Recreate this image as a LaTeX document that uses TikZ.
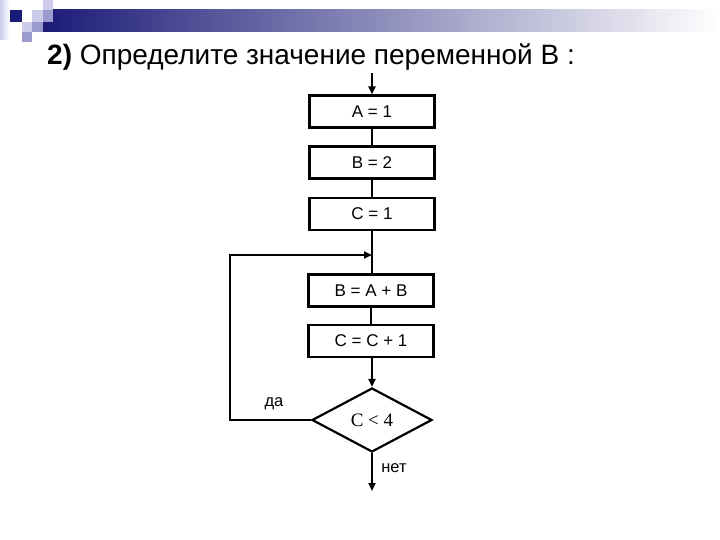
\documentclass[tikz,border=0pt]{standalone}
\usepackage{fontspec}
\setmainfont{Liberation Sans}
\newfontfamily\serifont{Liberation Serif}
\usetikzlibrary{shapes.geometric,arrows.meta}
\definecolor{navy}{RGB}{28,28,120}
\definecolor{lav}{RGB}{204,204,234}
\definecolor{midlav}{RGB}{154,154,204}
\definecolor{barmid}{RGB}{160,160,185}
\begin{document}
\begin{tikzpicture}[x=1pt,y=-1pt,
  box/.style={draw, line width=2.2pt, minimum width=125pt, minimum height=32pt, inner sep=0pt, font=\fontsize{17}{19}\selectfont},
  dec/.style={draw, diamond, line width=2.2pt, minimum width=120pt, minimum height=64pt, inner sep=0pt, font=\serifont\fontsize{19}{21}\selectfont},
  flow/.style={line width=2.2pt},
  arr/.style={flow, -{Triangle[length=8pt,width=7pt]}},
  lbl/.style={font=\fontsize{16.5}{18}\selectfont, inner sep=0pt}]
\useasboundingbox (0,0) rectangle (720,540);
% decoration
\shade[left color=lav, right color=white] (0,0) rectangle (10,40);
\shade[left color=navy, middle color=barmid, right color=white] (43,10) rectangle (720,32);
\fill[navy] (10,10) rectangle (22,22);
\fill[lav] (32,10) rectangle (43,22);
\fill[lav] (43,0) rectangle (53,10);
\fill[midlav] (43,10) rectangle (53,22);
\fill[lav] (22,22) rectangle (32,32);
\fill[midlav] (32,22) rectangle (43,32);
\fill[midlav] (22,32) rectangle (32,42);
% title
\node[anchor=base west, inner sep=0pt, font=\fontsize{28}{32}\selectfont] (title) at (47,65) {\textbf{2)} Определите значение переменной В :};
% flowchart
\node[box] (A) at (372,111.5) {A = 1};
\node[box] (B) at (372,162.5) {B = 2};
\node[box] (C) at (372,214) {C = 1};
\node[box] (BAB) at (371,290.5) {B = A + B};
\node[box] (CC) at (371,341) {C = C + 1};
\node[dec] (D) at (372,420) {C < 4};
\coordinate (start) at (372,73);
\coordinate (join) at (372,255);
\coordinate (end) at (372,491);
\draw[arr] (start) -- (A.north);
\draw[flow] (A.south) -- (B.north);
\draw[flow] (B.south) -- (C.north);
\draw[flow] (C.south) -- (C.south |- BAB.north);
\draw[arr] (D.west) -- (230,420) -- (230,255) -- (join);
\draw[flow] (BAB.south) -- (CC.north);
\draw[arr] (CC.south -| D.north) -- (D.north);
\draw[arr] (D.south) -- (end);
\node[lbl] (yes) at (274,404) {да};
\node[lbl] (no) at (394,468) {нет};
\end{tikzpicture}
\end{document}
